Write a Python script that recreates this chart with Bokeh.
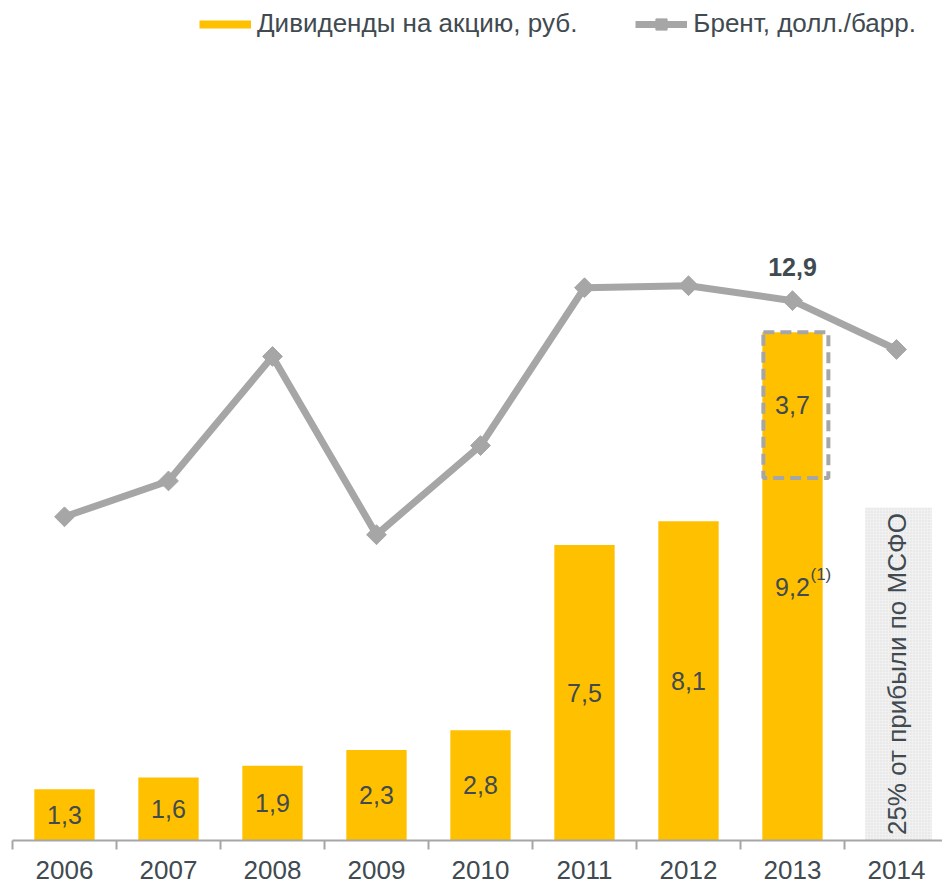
import math
from bokeh.plotting import figure
from bokeh.models import Range1d, FixedTicker, ColumnDataSource, Legend, LegendItem
from bokeh.core.properties import value
from bokeh.embed import file_html
from bokeh.resources import INLINE

# ---- data ----
years = ["2006", "2007", "2008", "2009", "2010", "2011", "2012", "2013", "2014"]
dividends = [1.3, 1.6, 1.9, 2.3, 2.8, 7.5, 8.1, 9.2]
dividend_labels = ["1,3", "1,6", "1,9", "2,3", "2,8", "7,5", "8,1", "9,2"]
extra_2013 = 3.7
extra_2013_label = "3,7"
total_2013_label = "12,9"
footnote = "(1)"
brent = [65.0, 72.2, 97.2, 61.4, 79.3, 111.0, 111.4, 108.4, 98.6]
placeholder_2014 = 8.45
placeholder_text = "25% от прибыли по МСФО"
legend_labels = ["Дивиденды на акцию, руб.", "Брент, долл./барр."]

# ---- style ----
YELLOW = "#FFC000"
GRAY = "#A6A6A6"
TEXT = "#404A50"
FONT = "Liberation Sans"
PX_PER_RUB = 39.4
PX_PER_USD = 4.98
FRAME_H = 840
FRAME_W = 930
CAT_PX = 104

p = figure(width=942, height=884, output_backend="svg", toolbar_location=None,
           x_range=Range1d(-0.5, -0.5 + FRAME_W / CAT_PX),
           y_range=Range1d(0, FRAME_H / PX_PER_RUB),
           y_axis_location=None,
           min_border_left=12, min_border_right=0, min_border_top=0, min_border_bottom=44)
p.extra_y_ranges = {"brent": Range1d(0, FRAME_H / PX_PER_USD)}
p.xgrid.visible = False
p.ygrid.visible = False
p.outline_line_color = None

n_div = len(dividends)
xs = list(range(n_div))
tops = dividends[:-1] + [dividends[-1] + extra_2013]

# 2014 placeholder
p.quad(left=[n_div - 0.30], right=[n_div + 0.34], bottom=[0], top=[placeholder_2014],
       fill_color="#F1F1F1", line_color=None,
       hatch_pattern="dot", hatch_color="#DCDCDC", hatch_scale=3, hatch_weight=1)
p.text(x=[n_div], y=[placeholder_2014 / 2], text=[placeholder_text], angle=math.pi / 2,
       text_align="center", text_baseline="middle", text_font=value(FONT),
       text_font_size="26px", text_color=TEXT)

# bars
p.vbar(x=xs, top=tops, width=0.58, fill_color=YELLOW, line_color=None)
# dashed outline of the 2013 additional part
last = n_div - 1
p.quad(left=[last - 0.28], right=[last + 0.345], bottom=[dividends[-1]], top=[tops[-1]],
       fill_color=None, line_color=GRAY, line_width=4, line_dash="11 6")

lbl_src = ColumnDataSource(dict(x=xs[:-1], y=[d / 2 for d in dividends[:-1]], t=dividend_labels[:-1]))
common = dict(text_align="center", text_baseline="middle", text_font=value(FONT),
              text_font_size="25px", text_color=TEXT)
p.text(x="x", y="y", text="t", source=lbl_src, **common)
p.text(x=[last], y=[dividends[-1] * 0.7], text=[dividend_labels[-1]], **common)
p.text(x=[last], y=[dividends[-1] * 0.7], text=[footnote], x_offset=18, y_offset=-12,
       text_align="left", text_baseline="middle", text_font=value(FONT),
       text_font_size="17px", text_color=TEXT)
p.text(x=[last], y=[(dividends[-1] + tops[-1]) / 2], text=[extra_2013_label], **common)
p.text(x=[last], y=[tops[-1] + 1.65], text=[total_2013_label], text_align="center",
       text_baseline="middle", text_font=value(FONT), text_font_size="25px",
       text_font_style="bold", text_color=TEXT)

# brent line
bx = list(range(len(brent)))
line_r = p.line(x=bx, y=brent, y_range_name="brent", line_color=GRAY, line_width=7)
mark_r = p.scatter(x=bx, y=brent, y_range_name="brent", marker="square", angle=math.pi / 4,
                   size=14, fill_color=GRAY, line_color=GRAY)

# legend proxy for bars (outside view)
proxy = p.line(x=[-5, -4], y=[0, 0], line_color=YELLOW, line_width=8)

legend = Legend(items=[LegendItem(label=legend_labels[0], renderers=[proxy]),
                       LegendItem(label=legend_labels[1], renderers=[line_r, mark_r])],
                location=(187, 801), orientation="horizontal",
                glyph_width=52, glyph_height=28, label_standoff=6, spacing=58,
                padding=0, margin=0, border_line_color=None, background_fill_alpha=0,
                label_text_font=FONT, label_text_font_size="26px", label_text_color=TEXT)
p.add_layout(legend)

# x axis
ax = p.xaxis[0]
ax.ticker = FixedTicker(ticks=list(range(len(years))),
                        minor_ticks=[i - 0.5 for i in range(len(years) + 1)])
ax.major_label_overrides = {i: y for i, y in enumerate(years)}
ax.axis_line_color = GRAY
ax.axis_line_width = 2
ax.major_tick_line_color = None
ax.major_tick_in = 0
ax.major_tick_out = 0
ax.minor_tick_line_color = GRAY
ax.minor_tick_line_width = 2
ax.minor_tick_in = 0
ax.minor_tick_out = 9
ax.major_label_standoff = 11
ax.major_label_text_font = FONT
ax.major_label_text_font_size = "26px"
ax.major_label_text_color = TEXT

open("out.html", "w").write(file_html(p, INLINE))
